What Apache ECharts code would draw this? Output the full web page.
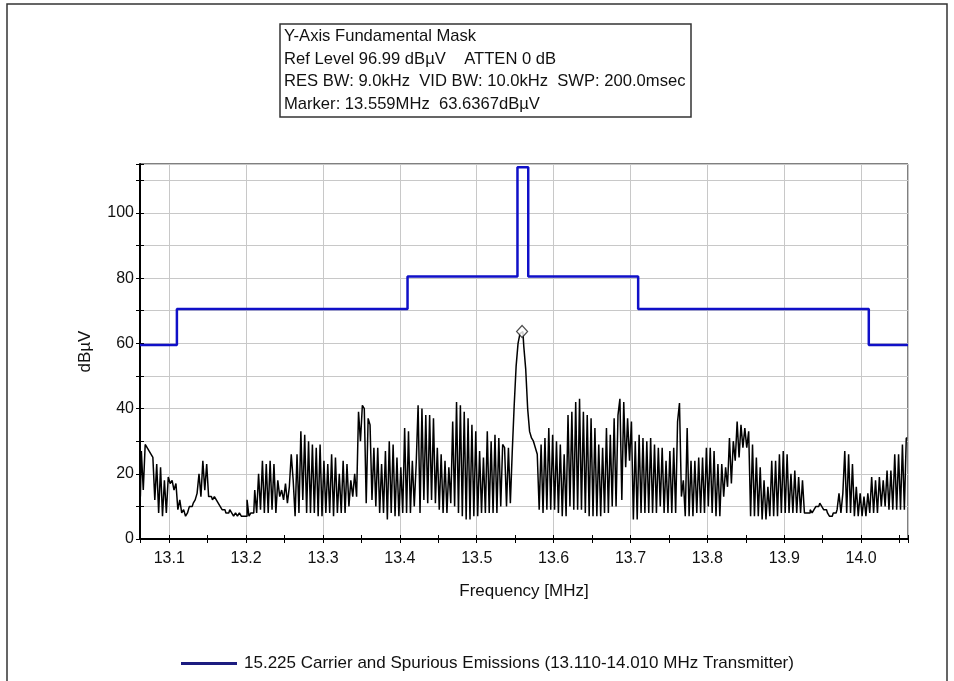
<!DOCTYPE html>
<html><head><meta charset="utf-8">
<script src="https://cdn.jsdelivr.net/npm/echarts@6/dist/echarts.min.js"></script>
<style>html,body{margin:0;padding:0;background:#fff;} #c{width:954px;height:681px;}</style>
</head><body><div id="c"></div>
<script>
// ---- data ----
const xMin = 13.062, xMax = 14.061;
const sweepStart = 13.0625, sweepStep = 0.0025;   // analyzer sweep points (MHz)
const traceLevels = [
  13, 27, 15, 29, 28, 27, 26, 25, 12, 23,
  8, 22, 7, 18, 8, 19, 17, 18, 15, 17,
  9, 12, 8, 9, 7, 8, 10, 10, 11, 12,
  14, 20, 13, 24, 15, 23, 13, 13, 12, 13,
  12, 11, 10, 9, 9, 8, 8, 9, 8, 7,
  8, 7, 8, 7, 7, 7, 12, 7, 8, 8,
  15, 8, 20, 9, 24, 8, 23, 8, 24, 9,
  23, 8, 18, 13, 15, 12, 17, 11, 16, 26,
  18, 7, 26, 8, 33, 12, 32, 8, 30, 8,
  29, 8, 28, 7, 29, 7, 24, 8, 23, 8,
  26, 7, 25, 8, 20, 8, 24, 8, 23, 10,
  18, 13, 20, 13, 39, 30, 41, 40, 11, 37,
  35, 12, 28, 10, 28, 8, 23, 8, 27, 6,
  30, 8, 29, 7, 25, 7, 22, 8, 34, 8,
  33, 8, 24, 10, 23, 41, 8, 40, 12, 38,
  11, 38, 12, 37, 11, 28, 9, 26, 8, 24,
  8, 22, 11, 36, 10, 42, 8, 41, 7, 39,
  6, 37, 6, 35, 7, 33, 7, 27, 8, 25,
  8, 33, 8, 30, 8, 32, 8, 31, 10, 29,
  28, 10, 28, 11, 27, 41, 53, 60, 63, 63.6,
  59, 52, 40, 33, 31, 30, 28, 26, 9, 29,
  8, 31, 9, 34, 9, 32, 9, 30, 8, 29,
  7, 26, 7, 38, 10, 39, 9, 42, 9, 43,
  9, 39, 8, 38, 7, 37, 7, 34, 7, 29,
  7, 28, 8, 34, 8, 32, 10, 37, 10, 38,
  43, 12, 42, 22, 37, 24, 36, 6, 30, 6,
  32, 8, 31, 8, 30, 8, 31, 8, 29, 8,
  28, 10, 28, 8, 24, 8, 27, 8, 28, 8,
  36, 41.7, 13, 18, 7, 34, 7, 24, 7, 24,
  8, 25, 8, 25, 8, 28, 10, 28, 8, 27,
  7, 23, 7, 23, 13, 22, 16, 31, 17, 30,
  24, 36, 25, 35, 28, 34, 28, 33, 7, 29,
  7, 25, 7, 22, 6, 18, 6, 16, 7, 24,
  7, 24, 7, 26, 8, 27, 8, 26, 8, 20,
  8, 21, 8, 19, 8, 18, 8, 8, 8, 9,
  8, 9, 10, 10, 11, 10, 9, 9, 8, 7,
  7, 8, 8, 9, 14, 8, 14, 27, 8, 26,
  8, 23, 7, 16, 7, 14, 7, 13, 7, 14,
  8, 19, 8, 18, 8, 19, 10, 18, 10, 21,
  9, 21, 9, 26, 9, 26, 9, 29, 9, 31
];
const maskEdges  = [13.062, 13.110, 13.410, 13.553, 13.567, 13.710, 14.010, 14.061];
const maskLevels = [59.5,   70.5,   80.5,   114,    80.5,   70.5,   59.5,   59.5];
const markerFreq = 13.559, markerLevel = 63.6367;
const yLabelValues = [0, 20, 40, 60, 80, 100];
const infoLines = [
  'Y-Axis Fundamental Mask',
  'Ref Level 96.99 dBµV    ATTEN 0 dB',
  'RES BW: 9.0kHz  VID BW: 10.0kHz  SWP: 200.0msec',
  'Marker: 13.559MHz  63.6367dBµV'
];
const legendName = '15.225 Carrier and Spurious Emissions (13.110-14.010 MHz Transmitter)';

// ---- build ----
const traceData = traceLevels.map((v, i) => [sweepStart + i * sweepStep, v]);
const maskData = maskEdges.map((f, i) => [f, maskLevels[i]]);
const FONT = 'Liberation Sans, Arial, sans-serif';

const chart = echarts.init(document.getElementById('c'), null, {renderer: 'canvas'});
chart.setOption({
  animation: false,
  backgroundColor: '#fff',
  grid: {left: 140, right: 46, top: 164, bottom: 142, show: true, borderColor: '#000', borderWidth: 1, containLabel: false},
  legend: {
    left: 176, top: 650, itemWidth: 56, itemHeight: 3, itemGap: 10,
    textStyle: {fontFamily: FONT, fontSize: 17, color: '#111', padding: [0, 0, 0, 2]},
    data: [{name: legendName, icon: 'rect', itemStyle: {color: '#1c1c80'}}]
  },
  xAxis: [{
    type: 'value', min: xMin, max: xMax, splitNumber: 10,
    name: 'Frequency [MHz]', nameLocation: 'middle', nameGap: 44,
    nameTextStyle: {fontFamily: FONT, fontSize: 17, color: '#111'},
    axisLine: {onZero: false, lineStyle: {color: '#000', width: 2}},
    axisTick: {show: true, length: 4, lineStyle: {color: '#000'}},
    minorTick: {show: true, splitNumber: 2, length: 4, lineStyle: {color: '#000'}},
    axisLabel: {fontFamily: FONT, fontSize: 16, color: '#111', margin: 12, showMinLabel: false, showMaxLabel: false,
      formatter: v => v.toFixed(1)},
    splitLine: {show: true, lineStyle: {color: '#c8c8c8', width: 1}}
  }, {
    type: 'value', min: xMin, max: xMax, splitNumber: 10, position: 'bottom',
    axisLine: {show: false, onZero: false},
    axisTick: {show: true, inside: true, length: 4, lineStyle: {color: '#000'}},
    minorTick: {show: true, splitNumber: 2, length: 4, lineStyle: {color: '#000'}},
    axisLabel: {show: false}, splitLine: {show: false}
  }],
  yAxis: [{
    type: 'value', min: 0, max: 115, interval: 10,
    name: 'dBµV', nameLocation: 'middle', nameGap: 46,
    nameTextStyle: {fontFamily: FONT, fontSize: 17, color: '#111'},
    axisLine: {show: true, lineStyle: {color: '#000', width: 2}},
    axisTick: {show: true, length: 4, lineStyle: {color: '#000'}},
    axisLabel: {fontFamily: FONT, fontSize: 16, color: '#111', margin: 6,
      formatter: v => (yLabelValues.indexOf(v) >= 0 ? String(v) : '')},
    splitLine: {show: true, lineStyle: {color: '#c8c8c8', width: 1}}
  }, {
    type: 'value', min: 0, max: 115, interval: 10, position: 'left',
    axisLine: {show: false},
    axisTick: {show: true, inside: true, length: 4, lineStyle: {color: '#000'}},
    axisLabel: {show: false}, splitLine: {show: false}
  }],
  series: [{
    name: 'trace', type: 'line', data: traceData, showSymbol: false, symbol: 'none', step: 'middle',
    lineStyle: {color: '#000', width: 1.5}, z: 3, silent: true
  }, {
    name: legendName, type: 'line', data: maskData, step: 'end', showSymbol: false, symbol: 'none',
    lineStyle: {color: '#1010c8', width: 2.5}, z: 4
  }, {
    name: 'marker', type: 'scatter', data: [[markerFreq, markerLevel]], symbol: 'diamond', symbolSize: [11, 12],
    itemStyle: {color: '#fff', borderColor: '#222', borderWidth: 1.2}, z: 5
  }],
  graphic: [
    {type: 'polyline', shape: {points: [[7, 681], [7, 4], [947, 4], [947, 681]]}, style: {stroke: '#333', lineWidth: 1.5, fill: null}},
    {type: 'rect', shape: {x: 280, y: 24, width: 411, height: 93}, style: {fill: '#fff', stroke: '#333', lineWidth: 1.5}},
    ...infoLines.map((t, i) => ({type: 'text', left: 284, top: 28 + i * 22.6,
      style: {text: t, font: '16.6px ' + FONT, fill: '#111'}}))
  ]
});
</script></body></html>
